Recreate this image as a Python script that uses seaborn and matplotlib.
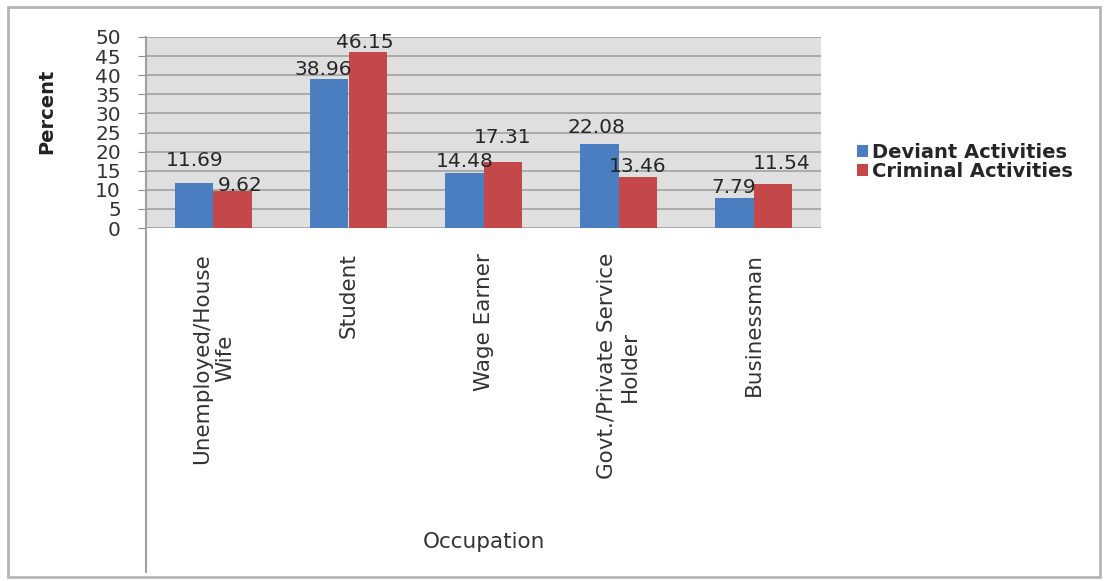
import matplotlib
matplotlib.use("Agg")
import matplotlib.pyplot as plt
import matplotlib.patches as mpatches
from matplotlib.lines import Line2D
import numpy as np
import pandas as pd
import seaborn as sns

# data
occupations = ["Unemployed/House\nWife", "Student", "Wage Earner",
               "Govt./Private Service\nHolder", "Businessman"]
series = ["Deviant Activities", "Criminal Activities"]
deviant = [11.69, 38.96, 14.48, 22.08, 7.79]
criminal = [9.62, 46.15, 17.31, 13.46, 11.54]
yticks = list(range(0, 55, 5))

# value label nudges (pixels) as placed in the original chart
label_dy = [[17, 4, 6, 11, 5], [0, 4, 19, 5, 15]]
label_dx = [[0, -6, 0, -3, -1], [7, -3, 0, 0, 9]]

colors = {"Deviant Activities": "#4A7EC0", "Criminal Activities": "#C4474A"}

df = pd.DataFrame({
    "Occupation": occupations + occupations,
    "Activity": [series[0]] * len(deviant) + [series[1]] * len(criminal),
    "Percent": deviant + criminal,
})

sns.set_style("white")
plt.rcParams["font.family"] = ["DejaVu Sans"]

fig = plt.figure(figsize=(11.07, 5.81), dpi=100)
W, H = 1107, 581
left, right, top, bottom = 146, 821, 37, 228
ax = fig.add_axes([left / W, 1 - bottom / H, (right - left) / W, (bottom - top) / H])

sns.barplot(data=df, x="Occupation", y="Percent", hue="Activity",
            palette=colors, width=0.57, saturation=1, ax=ax, legend=True,
            linewidth=0, edgecolor="none")

ax.set_facecolor("#DFDFDF")
ax.set_ylim(0, 50)
ax.set_yticks(yticks)
ax.yaxis.grid(True, color="#9C9C9C", linewidth=1.1)
ax.set_axisbelow(True)
for s in ["top", "right", "bottom"]:
    ax.spines[s].set_visible(False)
ax.spines["left"].set_color("#A0A0A0")
ax.spines["left"].set_linewidth(1.5)

ax.tick_params(axis="y", length=6, color="#8C8C8C", pad=12, labelsize=14.5,
               labelcolor="#333333", left=True)
ax.tick_params(axis="x", length=0, pad=18, labelsize=15.5, labelcolor="#333333",
               labelrotation=90)
for lbl in ax.get_xticklabels():
    lbl.set_multialignment("center")

for i, c in enumerate(ax.containers):
    for j, bar in enumerate(c):
        ax.annotate(f"{bar.get_height():.2f}",
                    (bar.get_x() + bar.get_width() / 2, bar.get_height()),
                    xytext=(label_dx[i][j], label_dy[i][j]),
                    textcoords="offset pixels", ha="center", va="baseline",
                    fontsize=14.5, color="#262626")

ax.set_ylabel("Percent", fontsize=14, fontweight="bold", color="#222222")
ax.yaxis.set_label_coords(-0.133, 0.613)
ax.set_xlabel("Occupation", fontsize=15.5, color="#333333")
ax.xaxis.set_label_coords(0.5, -1.59)

leg = ax.legend(loc="center left", bbox_to_anchor=(857 / W, 1 - 162 / H),
                bbox_transform=fig.transFigure, frameon=False,
                prop={"weight": "bold", "size": 14},
                handlelength=0.55, handleheight=0.55, handletextpad=0.2,
                labelspacing=0.0, borderpad=0, borderaxespad=0)
for t in leg.get_texts():
    t.set_color("#262626")

# axis line continues down through the category area, outer chart frame
fig.add_artist(Line2D([left / W, left / W], [1 - 572 / H, 1 - bottom / H],
                      color="#A0A0A0", linewidth=1.5))
fig.add_artist(mpatches.Rectangle((8 / W, 1 - 577 / H), (1100 - 8) / W, (577 - 7) / H,
                                  transform=fig.transFigure, fill=False,
                                  edgecolor="#B5B5B5", linewidth=2))

fig.savefig("out.png", dpi=100)
